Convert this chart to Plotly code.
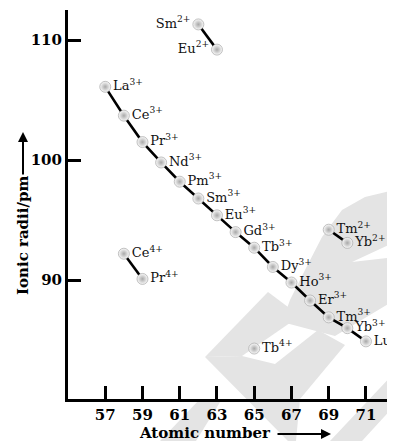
import plotly.graph_objects as go

# Ln3+ series
ln3_z = [57, 58, 59, 60, 61, 62, 63, 64, 65, 66, 67, 68, 69, 70, 71]
ln3_r = [106.1, 103.7, 101.5, 99.8, 98.2, 96.8, 95.4, 94.0, 92.7, 91.1, 89.8, 88.3, 86.9, 86.0, 84.9]
ln3_lab = ["La", "Ce", "Pr", "Nd", "Pm", "Sm", "Eu", "Gd", "Tb", "Dy", "Ho", "Er", "Tm", "Yb", "Lu"]

# Ln2+ pairs
ln2a_z = [62, 63]
ln2a_r = [111.3, 109.2]
ln2a_lab = ["Sm", "Eu"]

ln2b_z = [69, 70]
ln2b_r = [94.2, 93.1]
ln2b_lab = ["Tm", "Yb"]

# Ln4+
ln4a_z = [58, 59]
ln4a_r = [92.2, 90.1]
ln4a_lab = ["Ce", "Pr"]

ln4b_z = [65]
ln4b_r = [84.3]
ln4b_lab = ["Tb"]

x_ticks = [57, 59, 61, 63, 65, 67, 69, 71]
y_ticks = [90, 100, 110]

# page is shown with an 8px body margin, so the figure is drawn 8px smaller
W, H = 387, 433
L, T, B = 60, 2, 42
PW, PH = W - L, H - T - B


def px(x):
    return (x - 8 - L) / PW


def py(y):
    return (H - B - (y - 8)) / PH


def poly(pts):
    return "M " + " L ".join(f"{px(a):.4f},{py(b):.4f}" for a, b in pts) + " Z"


LABEL_FONT = dict(family="DejaVu Serif", size=13, color="#111")
marker = dict(size=11, color="#fbfbfb",
              gradient=dict(type="radial", color="#a8a8a8"),
              line=dict(color="#9a9a9a", width=0.6))

fig = go.Figure()

# faint background watermark
WM = "#e4e4e4"
watermark = [
    [(282, 322), (290, 300), (305, 270), (322, 237), (342, 210), (365, 197), (395, 190),
     (395, 242), (352, 262), (395, 257), (395, 300), (335, 336)],
    [(205, 357), (268, 292), (300, 316), (242, 356)],
    [(205, 357), (242, 356), (275, 364), (318, 330), (345, 345), (300, 399), (296, 441), (288, 441)],
    [(160, 441), (200, 399), (222, 399), (196, 441)],
    [(330, 441), (395, 372), (395, 405), (362, 441)],
]
for pts in watermark:
    fig.add_shape(type="path", path=poly(pts), xref="paper", yref="paper",
                  fillcolor=WM, line=dict(width=0), layer="below")


def add_group(z, r, labs, charge, pos):
    fig.add_trace(go.Scatter(
        x=z, y=r, mode="lines+markers+text",
        line=dict(color="black", width=2.6),
        marker=marker,
        text=[f"{l}<sup>{charge}</sup>" for l in labs],
        textposition=pos,
        textfont=LABEL_FONT,
        cliponaxis=False,
        hoverinfo="skip",
        showlegend=False,
    ))


add_group(ln3_z, ln3_r, ln3_lab, "3+", "middle right")
add_group(ln2a_z, ln2a_r, ln2a_lab, "2+", "middle left")
add_group(ln2b_z, ln2b_r, ln2b_lab, "2+", "middle right")
add_group(ln4a_z, ln4a_r, ln4a_lab, "4+", "middle right")
add_group(ln4b_z, ln4b_r, ln4b_lab, "4+", "middle right")

TICK_FONT = dict(family="DejaVu Serif", size=15, color="black", weight="bold")

fig.update_xaxes(range=[55.0, 72.56], tickvals=x_ticks, ticks="inside", ticklen=13,
                 tickwidth=3, tickcolor="black", showline=True, linewidth=3, linecolor="black",
                 showgrid=False, zeroline=False, tickfont=TICK_FONT)
fig.update_yaxes(range=[80.1, 112.5], tickvals=y_ticks, ticks="inside", ticklen=13,
                 tickwidth=3, tickcolor="black", showline=True, linewidth=3, linecolor="black",
                 showgrid=False, zeroline=False, tickfont=TICK_FONT)

TITLE_FONT = dict(family="DejaVu Serif", size=15, color="black", weight="bold")
fig.add_annotation(text="Atomic number", xref="paper", yref="paper",
                   x=px(205), y=py(433), showarrow=False,
                   font=TITLE_FONT, xanchor="center", yanchor="middle")
fig.add_annotation(text="", xref="paper", yref="paper", axref="pixel", ayref="pixel",
                   x=px(331), y=py(434), ax=-55, ay=0, showarrow=True,
                   arrowhead=2, arrowsize=1, arrowwidth=2, arrowcolor="black")
fig.add_annotation(text="Ionic radii/pm", xref="paper", yref="paper",
                   x=px(23), y=py(236), showarrow=False, textangle=-90,
                   font=TITLE_FONT, xanchor="center", yanchor="middle")
fig.add_annotation(text="", xref="paper", yref="paper", axref="pixel", ayref="pixel",
                   x=px(23), y=py(132), ax=0, ay=44, showarrow=True,
                   arrowhead=2, arrowsize=1, arrowwidth=2, arrowcolor="black")

fig.update_layout(width=W, height=H, margin=dict(l=L, r=0, t=T, b=B),
                  plot_bgcolor="rgba(0,0,0,0)", paper_bgcolor="white")

fig.write_html("out.html")
